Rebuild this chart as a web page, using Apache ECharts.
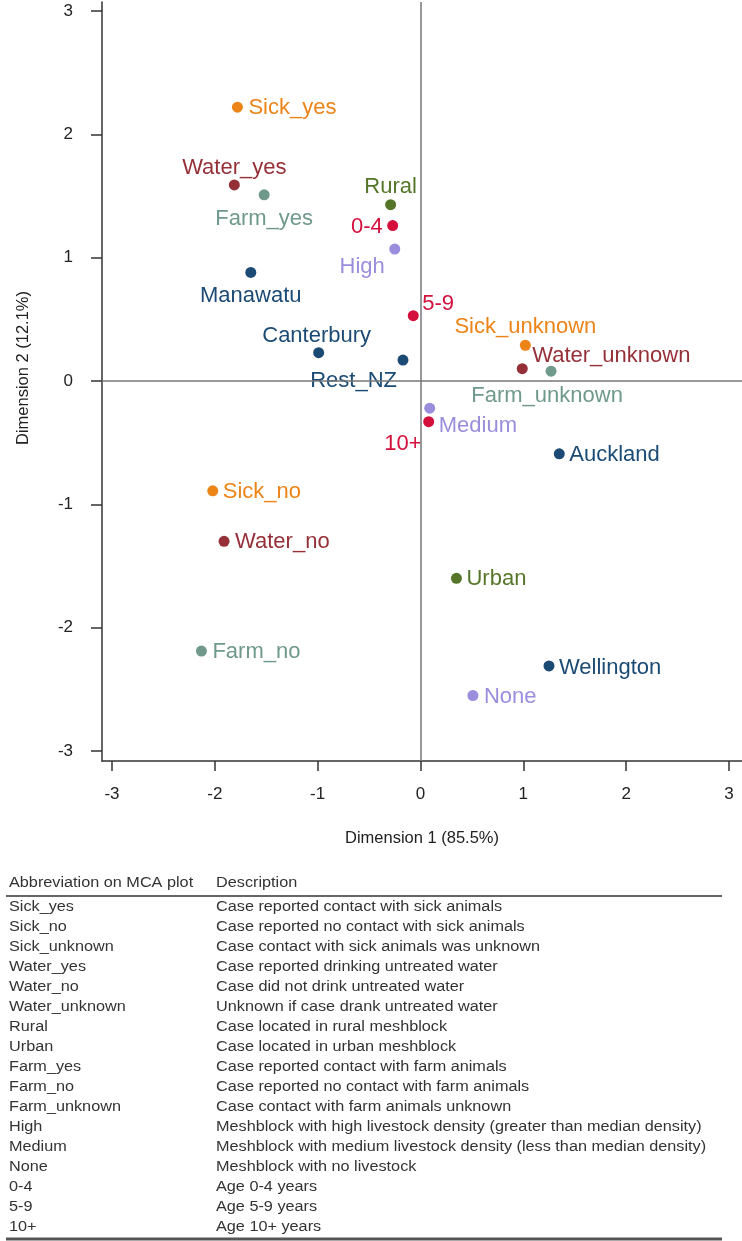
<!DOCTYPE html>
<html>
<head>
<meta charset="utf-8">
<script src="https://cdn.jsdelivr.net/npm/echarts@6/dist/echarts.min.js"></script>
<style>
html,body{margin:0;padding:0;background:#fff;}
#chart{width:742px;height:1241px;}
</style>
</head>
<body>
<div id="chart"></div>
<script>
// ---- data ----
const names = ['Sick_yes','Water_yes','Farm_yes','Manawatu','Canterbury','Rest_NZ','Rural','0-4','High','5-9',
  'Sick_unknown','Water_unknown','Farm_unknown','Medium','10+','Auckland','Urban','Wellington','None',
  'Sick_no','Water_no','Farm_no'];
const dim1 = [-1.78,-1.81,-1.52,-1.65,-0.99,-0.17,-0.29,-0.27,-0.25,-0.07,
  1.02,0.99,1.27,0.09,0.08,1.35,0.35,1.25,0.51,
  -2.02,-1.91,-2.13];
const dim2 = [2.22,1.59,1.51,0.88,0.23,0.17,1.43,1.26,1.07,0.53,
  0.29,0.10,0.08,-0.22,-0.33,-0.59,-1.60,-2.31,-2.55,
  -0.89,-1.30,-2.19];
const groups = ['Sick','Water','Farm','Region','Region','Region','Loc','Age','Dens','Age',
  'Sick','Water','Farm','Dens','Age','Region','Loc','Region','Dens',
  'Sick','Water','Farm'];
const xTicks = [-3,-2,-1,0,1,2,3];
const yTicks = [-3,-2,-1,0,1,2,3];
const xTitle = 'Dimension 1 (85.5%)';
const yTitle = 'Dimension 2 (12.1%)';
const tableHeader = ['Abbreviation on MCA plot','Description'];
const abbrevs = ['Sick_yes','Sick_no','Sick_unknown','Water_yes','Water_no','Water_unknown','Rural','Urban',
  'Farm_yes','Farm_no','Farm_unknown','High','Medium','None','0-4','5-9','10+'];
const descriptions = ['Case reported contact with sick animals','Case reported no contact with sick animals',
  'Case contact with sick animals was unknown','Case reported drinking untreated water',
  'Case did not drink untreated water','Unknown if case drank untreated water',
  'Case located in rural meshblock','Case located in urban meshblock',
  'Case reported contact with farm animals','Case reported no contact with farm animals',
  'Case contact with farm animals unknown',
  'Meshblock with high livestock density (greater than median density)',
  'Meshblock with medium livestock density (less than median density)',
  'Meshblock with no livestock','Age 0-4 years','Age 5-9 years','Age 10+ years'];

// ---- styles ----
const groupColor = {Sick:'#EC8418', Water:'#963038', Farm:'#6F998A', Loc:'#557628',
  Age:'#D40F3C', Dens:'#9A8EDC', Region:'#1B4A74'};
// label placement: [align, dx, dy] relative to point centre
const labelPlace = {
  'Sick_yes':['left',11,1], 'Water_yes':['center',0,-17], 'Farm_yes':['center',0,24],
  'Manawatu':['center',0,23], 'Canterbury':['center',-2,-17], 'Rest_NZ':['right',-6,21],
  'Rural':['center',0,-18], '0-4':['right',-10,1], 'High':['right',-10,18], '5-9':['left',9,-12],
  'Sick_unknown':['center',0,-18], 'Water_unknown':['left',10,-13], 'Farm_unknown':['center',-4,25],
  'Medium':['left',9,18], '10+':['right',-7,22], 'Auckland':['left',10,1], 'Urban':['left',10,1],
  'Wellington':['left',10,2], 'None':['left',11,1], 'Sick_no':['left',10,1], 'Water_no':['left',11,1],
  'Farm_no':['left',11,1]
};
const FONT = '"Liberation Sans", Arial, sans-serif';

const chart = echarts.init(document.getElementById('chart'), null, {renderer:'canvas'});

const seriesData = names.map((n,i)=>{
  const c = groupColor[groups[i]];
  const p = labelPlace[n];
  return {
    name:n, value:[dim1[i], dim2[i]],
    itemStyle:{color:c, opacity:1},
    label:{show:true, position:'inside', formatter:n, color:c, opacity:1, fontSize:22, fontFamily:FONT,
      align:p[0], verticalAlign:'middle', offset:[p[1],p[2]], textBorderWidth:0}
  };
});

const graphics = [];
graphics.push({type:'text', x:422, y:838, style:{text:xTitle, fontSize:16.5, fontFamily:FONT, fill:'#222',
  textAlign:'center', textVerticalAlign:'middle'}});
graphics.push({type:'text', x:23, y:368, rotation:Math.PI/2, style:{text:yTitle, fontSize:16.5, fontFamily:FONT, fill:'#222',
  textAlign:'center', textVerticalAlign:'middle'}});
// table
const col1 = 9, col2 = 216, sx = 1.16;
graphics.push({type:'text', x:col1, y:883, scaleX:sx, style:{text:tableHeader[0], fontSize:14, fontFamily:FONT, fill:'#333', textVerticalAlign:'middle'}});
graphics.push({type:'text', x:col2, y:883, scaleX:sx, style:{text:tableHeader[1], fontSize:14, fontFamily:FONT, fill:'#333', textVerticalAlign:'middle'}});
graphics.push({type:'line', shape:{x1:6,y1:896,x2:722,y2:896}, style:{stroke:'#333', lineWidth:1.5}});
abbrevs.forEach((a,i)=>{
  const y = 907 + 20*i;
  graphics.push({type:'text', x:col1, y:y, scaleX:sx, style:{text:a, fontSize:14, fontFamily:FONT, fill:'#333', textVerticalAlign:'middle'}});
  graphics.push({type:'text', x:col2, y:y, scaleX:sx, style:{text:descriptions[i], fontSize:14, fontFamily:FONT, fill:'#333', textVerticalAlign:'middle'}});
});
graphics.push({type:'line', shape:{x1:6,y1:1239,x2:722,y2:1239}, style:{stroke:'#555', lineWidth:3}});

chart.setOption({
  animation:false,
  backgroundColor:'#fff',
  grid:{left:102, top:2, width:640, height:759, containLabel:false},
  xAxis:{type:'value', min:-3.097, max:3.127,
    axisLine:{show:true, onZero:false, lineStyle:{color:'#333', width:1.5}},
    axisTick:{show:true, length:10, customValues:xTicks, lineStyle:{color:'#333', width:1.5}},
    axisLabel:{customValues:xTicks, fontSize:17, fontFamily:FONT, color:'#222', margin:25},
    splitLine:{show:false}},
  yAxis:{type:'value', min:-3.081, max:3.073,
    axisLine:{show:true, onZero:false, lineStyle:{color:'#333', width:1.5}},
    axisTick:{show:true, length:11, customValues:yTicks, lineStyle:{color:'#333', width:1.5}},
    axisLabel:{customValues:yTicks, fontSize:17, fontFamily:FONT, color:'#222', margin:29},
    splitLine:{show:false}},
  series:[{
    type:'scatter', symbolSize:11, data:seriesData, z:3,
    itemStyle:{opacity:1},
    emphasis:{disabled:true},
    markLine:{silent:true, symbol:['none','none'], label:{show:false}, animation:false,
      lineStyle:{color:'#777', width:1.5, type:'solid'},
      emphasis:{disabled:true},
      data:[{xAxis:0},{yAxis:0}]}
  }],
  graphic:graphics
});
</script>
</body>
</html>
